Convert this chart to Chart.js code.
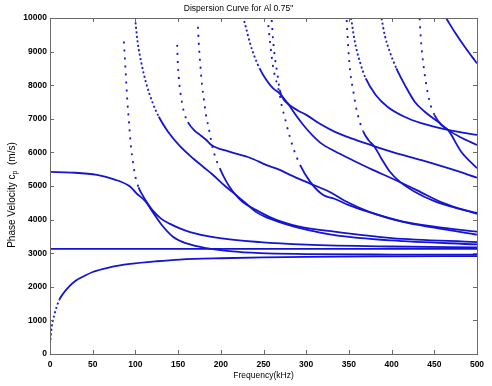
<!DOCTYPE html>
<html>
<head>
<meta charset="utf-8">
<script src="https://cdn.jsdelivr.net/npm/chart.js@4.4.1/dist/chart.umd.min.js"></script>
<style>
  html, body { margin: 0; padding: 0; background: #fff; }
  canvas { display: block; }
</style>
</head>
<body>
<canvas id="chart" width="492" height="386"></canvas>
<script>
// Mode curves: frequency (kHz) and phase velocity (m/s)
const a0F = [0.5, 1.5, 3, 5.5, 8, 11, 15.5, 22, 30, 40, 50, 70, 94, 125, 152, 200, 250, 300, 400, 500];
const a0V = [420, 700, 950, 1210, 1420, 1620, 1800, 2000, 2180, 2320, 2440, 2580, 2680, 2760, 2810, 2850, 2875, 2890, 2905, 2915];

const s0F = [0, 25, 55, 75, 94, 101, 111, 121, 130, 144, 160, 183, 210, 246, 300, 400, 500];
const s0V = [5420, 5400, 5330, 5200, 4980, 4790, 4560, 4200, 3870, 3490, 3290, 3150, 3060, 3000, 2975, 2960, 2955];

const sh0F = [0, 500];
const sh0V = [3130, 3130];

const sh1F = [86.5, 88.2, 90.5, 92.5, 94.8, 97.2, 99.5, 103.7, 108.3, 115, 121, 130, 140, 152, 164, 191, 246, 300, 400, 500];
const sh1V = [9300, 8570, 7560, 6890, 6170, 5700, 5330, 4960, 4730, 4460, 4250, 4030, 3880, 3740, 3630, 3480, 3330, 3255, 3200, 3175];

const a1F = [100.1, 102.8, 107.1, 112.6, 120.4, 127.4, 138, 151.6, 168, 180, 190, 205, 218, 230, 241, 255, 273, 300, 333, 400, 500];
const a1V = [9870, 9250, 8650, 8060, 7460, 7060, 6620, 6200, 5810, 5560, 5350, 5000, 4730, 4470, 4230, 4050, 3890, 3700, 3540, 3380, 3260];

const bF = [148.9, 149.7, 151.6, 153.6, 155.5, 157.9, 161.4, 169.2, 175.3, 183, 189, 210, 234, 253, 269, 281, 304, 327, 345, 373, 412, 450, 500];
const bV = [9200, 8630, 8010, 7630, 7350, 7110, 6900, 6650, 6530, 6370, 6220, 6020, 5840, 5630, 5480, 5330, 5080, 4830, 4560, 4240, 3940, 3760, 3550];

const sh2F = [173.3, 174.1, 176.1, 178, 180.4, 182.7, 185.9, 188.9, 192.8, 198.7, 206.5, 214.3, 225, 241, 265, 292, 333, 400, 500];
const sh2V = [9740, 9300, 8570, 8010, 7530, 7110, 6720, 6320, 5920, 5530, 5130, 4830, 4540, 4290, 3990, 3790, 3640, 3450, 3330];

const dF = [226, 229.7, 233.6, 239.5, 245.4, 253.2, 261, 268.7, 280, 290, 300.5, 316, 333, 355, 380, 405, 435, 470, 500];
const dV = [10040, 9690, 9300, 8850, 8500, 8160, 7910, 7760, 7420, 7250, 7110, 6850, 6620, 6400, 6180, 5980, 5770, 5500, 5250];

const sh3F = [255.6, 257.6, 259.6, 262.3, 266.2, 268.7, 271.2, 275.2, 279.1, 285, 292.8, 304.5, 319.9, 333, 350, 373, 412, 450, 500];
const sh3V = [9790, 9300, 8850, 8400, 8010, 7760, 7410, 7010, 6620, 6120, 5630, 5130, 4730, 4620, 4430, 4230, 3950, 3790, 3640];

const eF = [259.6, 261.2, 263.5, 266.2, 269, 280, 296.6, 316, 333, 355, 378, 400, 430, 460, 500];
const eV = [9940, 9345, 8800, 8350, 7860, 7400, 6815, 6300, 6040, 5760, 5480, 5230, 4870, 4500, 4170];

const sh4F = [347.4, 349.3, 351.6, 355.2, 359.5, 366.9, 372.8, 380, 388, 397.8, 409.5, 427, 450, 475, 500];
const sh4V = [9940, 9100, 8400, 7810, 7210, 6620, 6370, 6170, 5820, 5430, 5130, 4830, 4550, 4350, 4200];

const gF = [352.5, 356.9, 362.8, 369.7, 381.4, 395.1, 415, 434.6, 466, 500];
const gV = [10000, 9300, 8700, 8200, 7710, 7360, 7060, 6870, 6670, 6520];

const hF = [388.2, 392, 397.8, 405.6, 415.4, 427, 438.8, 454.4, 466, 480, 500];
const hV = [9990, 9490, 9000, 8500, 8010, 7510, 7210, 6910, 6670, 6460, 6220];

const sh5F = [432.8, 434, 435.5, 437.8, 440.6, 444.5, 450.3, 458.1, 466, 481.5, 500];
const sh5V = [9990, 9490, 9000, 8500, 8010, 7510, 7110, 6820, 6670, 6020, 5530];

const kF = [464, 473.7, 485.4, 497, 500];
const kV = [9990, 9590, 9150, 8750, 8650];

const xTicksStep = 50;
const yTicksStep = 1000;

// which curves show sparse dots on their steep part
const modes = [
  [a0F, a0V, 'dense'], [s0F, s0V, 'dense'], [sh0F, sh0V, 'dense'],
  [sh1F, sh1V, 'sparse'], [a1F, a1V, 'dense'], [bF, bV, 'sparse'],
  [sh2F, sh2V, 'sparse'], [dF, dV, 'dense'], [sh3F, sh3V, 'sparse'],
  [eF, eV, 'sparse'], [sh4F, sh4V, 'sparse'], [gF, gV, 'dense'],
  [hF, hV, 'dense'], [sh5F, sh5V, 'sparse'], [kF, kV, 'solid']
];

const BLUE = '#1414d2';

function steepDash(kind) {
  const gap = kind === 'sparse' ? 6 : 2.5;
  return c => {
    if (kind === 'solid') return undefined;
    const dx = Math.abs(c.p1.x - c.p0.x), dy = Math.abs(c.p1.y - c.p0.y);
    return dy > 2.2 * dx ? [2, gap] : undefined;
  };
}

const datasets = modes.map(([f, v, kind]) => ({
  data: f.map((x, i) => ({x: x, y: v[i]})),
  showLine: true,
  borderColor: BLUE,
  backgroundColor: BLUE,
  borderWidth: 1.8,
  borderCapStyle: 'butt',
  pointRadius: 0,
  cubicInterpolationMode: 'monotone',
  clip: 0,
  segment: { borderDash: steepDash(kind) }
}));

// box round the plot, inward ticks on all four sides, y title with subscript
const frame = {
  id: 'frame',
  afterDraw(chart) {
    const {ctx, chartArea: a, scales: {x, y}} = chart;
    ctx.save();
    ctx.strokeStyle = '#6a6a6a';
    ctx.lineWidth = 1;
    ctx.strokeRect(a.left + 0.5, a.top + 0.5, a.right - a.left, a.bottom - a.top);
    ctx.beginPath();
    x.ticks.forEach(t => {
      const px = Math.round(x.getPixelForValue(t.value)) + 0.5;
      ctx.moveTo(px, a.bottom); ctx.lineTo(px, a.bottom - 4);
      ctx.moveTo(px, a.top); ctx.lineTo(px, a.top + 4);
    });
    y.ticks.forEach(t => {
      const py = Math.round(y.getPixelForValue(t.value)) + 0.5;
      ctx.moveTo(a.left, py); ctx.lineTo(a.left + 4, py);
      ctx.moveTo(a.right, py); ctx.lineTo(a.right - 4, py);
    });
    ctx.stroke();

    ctx.fillStyle = '#000';
    ctx.translate(12, 195);
    ctx.rotate(-Math.PI / 2);
    ctx.textBaseline = 'middle';
    const big = '10px "Liberation Sans", Arial, sans-serif';
    const small = '7px "Liberation Sans", Arial, sans-serif';
    const p1 = 'Phase Velocity c', p2 = 'p', p3 = '  (m/s)';
    ctx.font = big; const w1 = ctx.measureText(p1).width, w3 = ctx.measureText(p3).width;
    ctx.font = small; const w2 = ctx.measureText(p2).width;
    let sx = -(w1 + w2 + w3) / 2;
    ctx.font = big; ctx.fillText(p1, sx, 0); sx += w1;
    ctx.font = small; ctx.fillText(p2, sx, 3); sx += w2;
    ctx.font = big; ctx.fillText(p3, sx, 0);
    ctx.restore();
  }
};

Chart.defaults.font.family = '"Liberation Sans", Arial, sans-serif';
Chart.defaults.color = '#000';

new Chart(document.getElementById('chart').getContext('2d'), {
  type: 'scatter',
  data: { datasets: datasets },
  options: {
    responsive: false,
    animation: false,
    devicePixelRatio: 1,
    layout: { padding: { left: 0, right: 15, top: 0, bottom: 0 } },
    plugins: {
      legend: { display: false },
      tooltip: { enabled: false },
      title: {
        display: true,
        text: 'Dispersion Curve for Al 0.75"',
        font: { size: 8.5, weight: 'normal' },
        color: '#000',
        padding: { top: 4, bottom: 3.8 }
      }
    },
    scales: {
      x: {
        type: 'linear',
        min: 0, max: 500,
        grid: { display: false, drawTicks: false },
        border: { display: false },
        ticks: { stepSize: xTicksStep, padding: 6, font: { size: 8.5, weight: 'bold' }, maxRotation: 0 },
        title: { display: true, text: 'Frequency(kHz)', font: { size: 8.5 }, padding: { top: 0, bottom: 5 } },
        afterFit: s => { s.height = 32; }
      },
      y: {
        type: 'linear',
        min: 0, max: 10000,
        grid: { display: false, drawTicks: false },
        border: { display: false },
        ticks: { stepSize: yTicksStep, padding: 3, font: { size: 8.5, weight: 'bold' }, callback: v => String(v) },
        afterFit: s => { s.width = 50; }
      }
    }
  },
  plugins: [frame]
});
</script>
</body>
</html>
